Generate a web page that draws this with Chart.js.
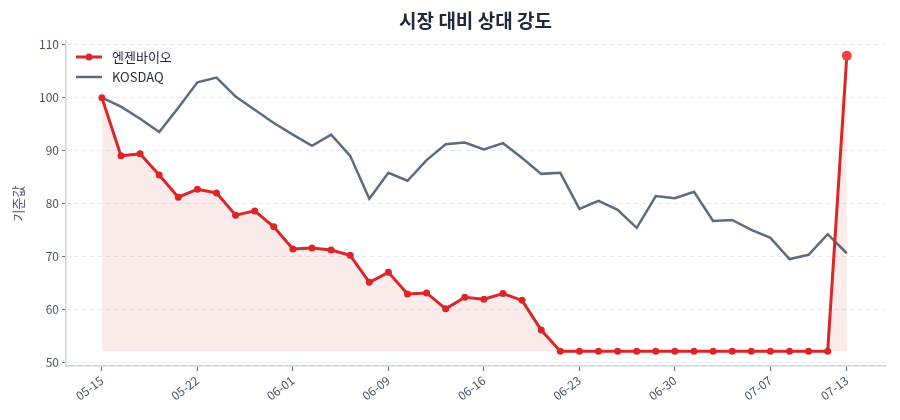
<!DOCTYPE html>
<html>
<head>
<meta charset="utf-8">
<script src="https://cdn.jsdelivr.net/npm/chart.js@4"></script>
<style>
  html, body { margin: 0; padding: 0; background: #fff; }
  #wrap { width: 900px; height: 420px; }
</style>
</head>
<body>
<div id="wrap"><canvas id="rsChart" width="900" height="420"></canvas></div>
<script>
// Data (trading days)
const dates = [
  '05-15', '05-18', '05-19', '05-20', '05-21', '05-22', '05-26', '05-27', '05-28', '05-29',
  '06-01', '06-02', '06-04', '06-05', '06-08', '06-09', '06-10', '06-11', '06-12', '06-15',
  '06-16', '06-17', '06-18', '06-19', '06-22', '06-23', '06-24', '06-25', '06-26', '06-29',
  '06-30', '07-01', '07-02', '07-03', '07-06', '07-07', '07-08', '07-09', '07-10', '07-13'
];
const stockValues = [
  100, 89.0, 89.4, 85.4, 81.2, 82.7, 82.0, 77.8, 78.6, 75.6,
  71.4, 71.6, 71.2, 70.2, 65.1, 67.0, 62.9, 63.1, 60.1, 62.3,
  61.9, 63.0, 61.7, 56.1, 52.1, 52.1, 52.1, 52.1, 52.1, 52.1,
  52.1, 52.1, 52.1, 52.1, 52.1, 52.1, 52.1, 52.1, 52.1, 107.9
];
const kosdaqValues = [
  100, 98.3, 96.0, 93.5, 98.1, 102.9, 103.8, 100.2, 97.7, 95.2,
  93.0, 90.9, 93.0, 89.0, 80.9, 85.8, 84.3, 88.2, 91.2, 91.5,
  90.2, 91.4, 88.6, 85.6, 85.8, 79.0, 80.5, 78.8, 75.4, 81.4,
  81.0, 82.2, 76.7, 76.9, 75.0, 73.5, 69.5, 70.3, 74.2, 70.6
];
const tickIndex = [0, 5, 10, 15, 20, 25, 30, 35, 39];
const yTicks = [50, 60, 70, 80, 90, 100, 110];
const chartTitle = '시장 대비 상대 강도';

const FONT = '"Noto Sans CJK KR", "Noto Sans", sans-serif';
Chart.defaults.font.family = FONT;

const toPoints = arr => arr.map((v, i) => ({ x: i, y: v }));
const lastIdx = stockValues.length - 1;

// title centred over the plot area + legend inside the plot, top-left
const overlay = {
  id: 'overlay',
  afterDraw(chart) {
    const ctx = chart.ctx;
    const area = chart.chartArea;

    ctx.save();
    ctx.fillStyle = '#1e293b';
    ctx.font = 'bold 19px ' + FONT;
    ctx.textAlign = 'center';
    ctx.textBaseline = 'middle';
    ctx.fillText(chartTitle, (area.left + area.right) / 2, 21);
    ctx.restore();

    let y = 57;
    chart.data.datasets.forEach(ds => {
      ctx.save();
      ctx.strokeStyle = ds.borderColor;
      ctx.lineWidth = ds.borderWidth;
      ctx.beginPath();
      ctx.moveTo(area.left + 10, y);
      ctx.lineTo(area.left + 36, y);
      ctx.stroke();
      if (ds.pointRadius) {
        ctx.fillStyle = ds.borderColor;
        ctx.beginPath();
        ctx.arc(area.left + 23, y, 3.5, 0, Math.PI * 2);
        ctx.fill();
      }
      ctx.fillStyle = '#1e293b';
      ctx.font = '13px ' + FONT;
      ctx.textBaseline = 'middle';
      ctx.fillText(ds.label, area.left + 46, y);
      ctx.restore();
      y += 20;
    });
  }
};

new Chart(document.getElementById('rsChart'), {
  type: 'line',
  data: {
    datasets: [
      {
        label: '엔젠바이오',
        data: toPoints(stockValues),
        borderColor: '#dc2626',
        borderWidth: 3,
        pointRadius: c => c.dataIndex === lastIdx ? 5 : 3.5,
        pointBackgroundColor: c => c.dataIndex === lastIdx ? '#ef4444' : '#dc2626',
        pointBorderWidth: 0,
        fill: { value: Math.min(...stockValues) },
        backgroundColor: 'rgba(220, 38, 38, 0.09)',
        tension: 0
      },
      {
        label: 'KOSDAQ',
        data: toPoints(kosdaqValues),
        borderColor: '#5b6b84',
        borderWidth: 2.5,
        pointRadius: 0,
        fill: false,
        tension: 0
      }
    ]
  },
  options: {
    responsive: false,
    animation: false,
    layout: { padding: { left: 10, right: 15, top: 41, bottom: 0 } },
    plugins: {
      legend: { display: false },
      tooltip: { enabled: false },
      title: { display: false }
    },
    scales: {
      x: {
        type: 'linear',
        min: -1.88,
        max: 41.0,
        afterBuildTicks: s => { s.ticks = tickIndex.map(v => ({ value: v })); },
        afterFit: s => { s.height = 54; },
        ticks: {
          callback: v => dates[v],
          color: '#475569',
          font: { size: 12 },
          minRotation: 37,
          maxRotation: 37,
          autoSkip: false,
          padding: 2
        },
        grid: { drawOnChartArea: false, drawTicks: true, tickLength: 5, tickColor: '#64748b', tickWidth: 1.2 },
        border: { color: '#cbd5e1', width: 1.5 }
      },
      y: {
        min: 49.3,
        max: 110.7,
        afterBuildTicks: s => { s.ticks = yTicks.map(v => ({ value: v })); },
        afterFit: s => { s.width = 56; },
        title: {
          display: true,
          text: '기준값',
          color: '#475569',
          font: { size: 13 },
          padding: { top: 0, bottom: 4 }
        },
        ticks: { color: '#475569', font: { size: 12 }, padding: 3 },
        grid: { color: '#e2e8f0', lineWidth: 1, tickLength: 4, tickColor: '#64748b', tickBorderDash: [] },
        border: { color: '#cbd5e1', width: 1.5, dash: [4, 4] }
      }
    }
  },
  plugins: [overlay]
});
</script>
</body>
</html>
